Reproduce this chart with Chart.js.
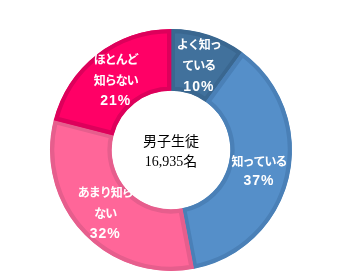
<!DOCTYPE html>
<html><head><meta charset="utf-8">
<script src="https://cdn.jsdelivr.net/npm/chart.js@4.4.0/dist/chart.umd.min.js"></script>
<style>html,body{margin:0;padding:0;background:#fff;}#wrap{width:342px;height:272px;}</style>
</head><body><div id="wrap"><canvas id="c" width="342" height="272"></canvas></div>
<script>
const categories = ["よく知っている", "知っている", "あまり知らない", "ほとんど知らない"];
const labelLines = [["よく知っ", "ている"], ["知っている"], ["あまり知ら", "ない"], ["ほとんど", "知らない"]];
const values = [10, 37, 32, 21];
const centerLines = ["男子生徒", "16,935名"];

const fills = ["#41719C", "#558FC9", "#FF6699", "#FF0066"];
const borders = ["#3A6790", "#4A80B7", "#E65E8D", "#DD005B"];

const labelPlugin = {
  id: 'labels',
  afterDatasetsDraw(chart) {
    const ctx = chart.ctx;
    const meta = chart.getDatasetMeta(0);
    ctx.save();
    ctx.fillStyle = '#fff';
    ctx.textAlign = 'center';
    ctx.textBaseline = 'middle';
    meta.data.forEach((arc, i) => {
      const p = arc.tooltipPosition();
      const lines = labelLines[i].concat([values[i] + '%']);
      const lh = lines.length === 2 ? 20 : 21;
      const y0 = p.y + 1.5 - (lines.length - 1) * lh / 2;
      lines.forEach((t, j) => {
        if (j === lines.length - 1) {
          ctx.font = 'bold 14px "Liberation Sans", Arial, sans-serif';
          ctx.letterSpacing = '1px';
        } else {
          ctx.font = 'bold 12px "Noto Sans CJK JP", sans-serif';
          ctx.letterSpacing = '-1px';
        }
        ctx.fillText(t, p.x, y0 + j * lh);
      });
    });
    ctx.letterSpacing = '0px';
    const a = meta.data[0];
    ctx.fillStyle = '#000';
    ctx.font = '14px "Liberation Serif", "Noto Sans CJK JP", serif';
    ctx.fillText(centerLines[0], a.x, a.y - 8);
    ctx.fillText(centerLines[1], a.x, a.y + 12);
    ctx.restore();
  }
};

new Chart(document.getElementById('c'), {
  type: 'doughnut',
  data: {
    labels: categories,
    datasets: [{
      data: values,
      backgroundColor: fills,
      borderColor: borders,
      borderWidth: 4,
      borderAlign: 'inner',
      hoverOffset: 0,
      hoverBorderWidth: 4
    }]
  },
  options: {
    responsive: false,
    animation: false,
    events: [],
    cutout: '49%',
    layout: { padding: { top: 29, bottom: 1, left: 0, right: 0 } },
    plugins: { legend: { display: false }, tooltip: { enabled: false } }
  },
  plugins: [labelPlugin]
});
</script></body></html>
